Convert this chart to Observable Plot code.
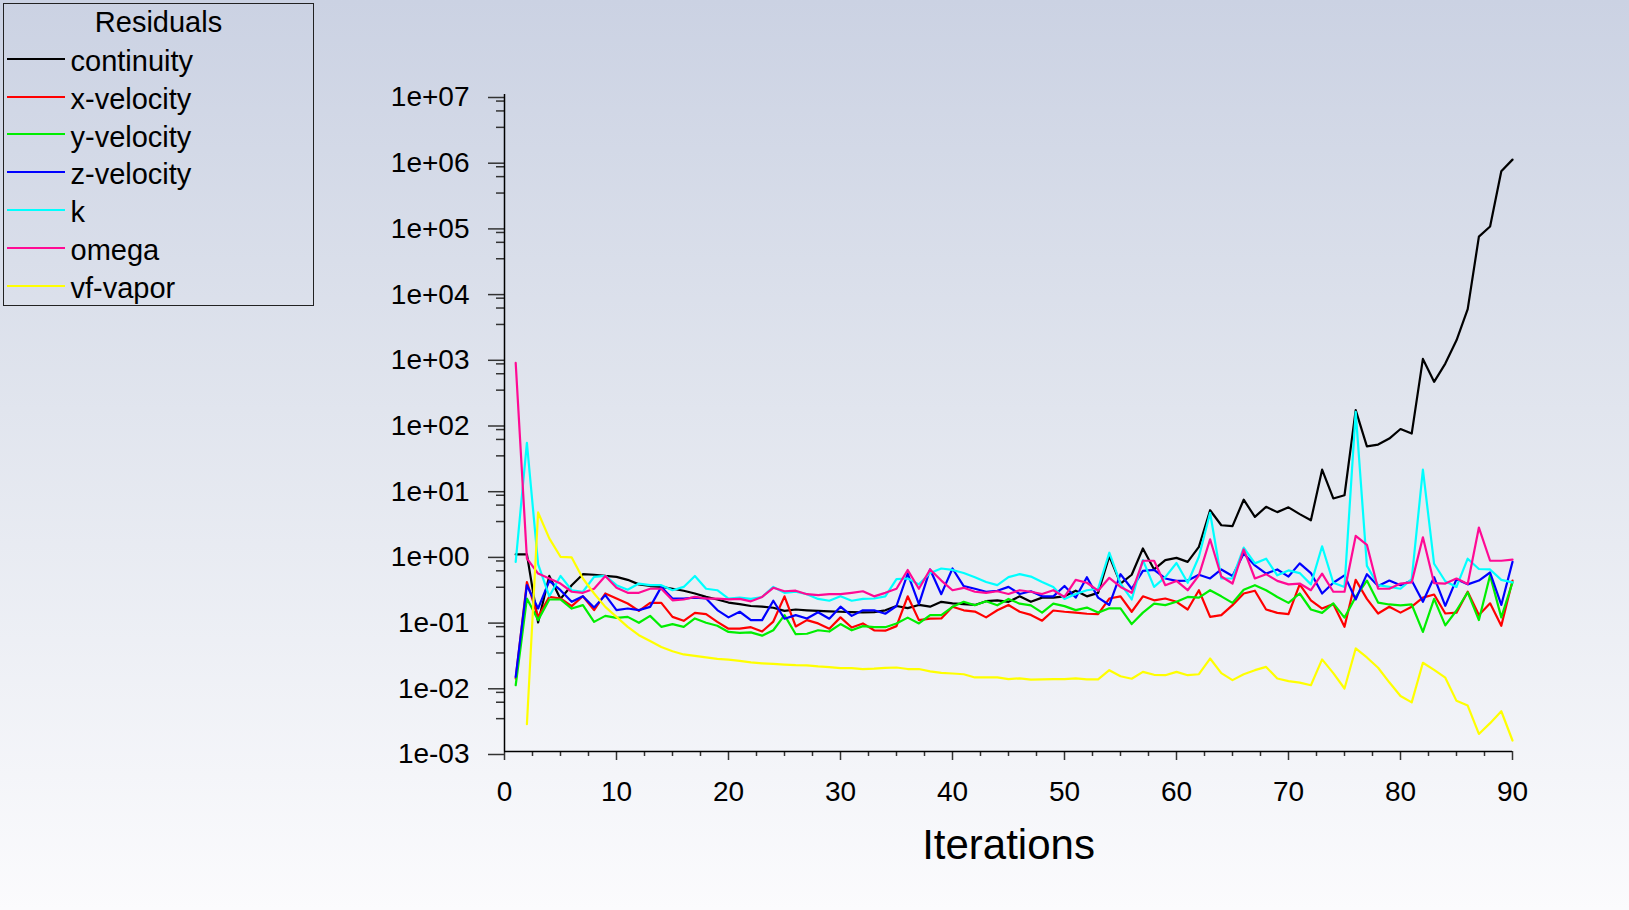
<!DOCTYPE html>
<html>
<head>
<meta charset="utf-8">
<script src="https://cdn.jsdelivr.net/npm/d3@7"></script>
<script src="https://cdn.jsdelivr.net/npm/@observablehq/plot@0.6"></script>
<style>
  html, body { margin: 0; padding: 0; }
  body {
    width: 1629px; height: 910px; overflow: hidden; position: relative;
    background: linear-gradient(to bottom, #cbd2e3 0%, #e1e5ee 45%, #fbfbfd 100%);
    font-family: "Liberation Sans", Arial, sans-serif;
  }
  #chart { position: absolute; left: 0; top: 0; }
  #legend {
    position: absolute; left: 3px; top: 3px; width: 309px; height: 301px;
    border: 1.5px solid #222; box-sizing: content-box;
  }
  #legend .t { position: absolute; font-size: 29px; line-height: 29px; color: #000; white-space: nowrap; }
  #legend .s { position: absolute; height: 2px; width: 58px; }
</style>
</head>
<body>
<div id="chart"></div>
<div id="legend"></div>
<script>
// ---------- data ----------
const iterations = d3.range(1, 91);

const seriesNames = ["continuity", "x-velocity", "y-velocity", "z-velocity", "k", "omega", "vf-vapor"];
const seriesColors = ["#000000", "#ff0000", "#00ee00", "#0000ff", "#00ffff", "#ff0a94", "#ffff00"];

const continuity = [1.0,1.0,0.092,0.47,0.21,0.34,0.50,0.49,0.47,0.455,
 0.41,0.35,0.33,0.32,0.30,0.28,0.254,0.226,0.206,0.185,
 0.175,0.164,0.16,0.154,0.138,0.145,0.141,0.138,0.136,0.134,
 0.132,0.131,0.132,0.141,0.164,0.152,0.17,0.16,0.19,0.18,
 0.175,0.17,0.194,0.2,0.19,0.23,0.19,0.22,0.22,0.23,
 0.28,0.23,0.26,0.94,0.36,0.49,1.23,0.59,0.82,0.885,
 0.77,1.30,4.7,2.78,2.69,6.8,3.72,5.3,4.4,5.2,
 4.1,3.3,19.5,7.1,7.95,157,44,47,58,81,
 69,944,423,802,1815,5400,68700,98000,677000,1020000];

const xVelocity = [0.0129,0.38,0.112,0.226,0.213,0.163,0.231,0.142,0.254,0.213,
 0.179,0.138,0.183,0.183,0.112,0.0975,0.129,0.123,0.094,0.074,
 0.074,0.078,0.067,0.095,0.23,0.08,0.10,0.089,0.074,0.11,
 0.077,0.089,0.07,0.069,0.081,0.23,0.10,0.105,0.106,0.16,
 0.141,0.135,0.11,0.141,0.17,0.134,0.12,0.098,0.14,0.134,
 0.13,0.125,0.123,0.213,0.23,0.134,0.23,0.2,0.213,0.19,
 0.145,0.285,0.112,0.119,0.169,0.254,0.28,0.145,0.129,0.123,
 0.35,0.2,0.15,0.175,0.079,0.41,0.21,0.126,0.16,0.13,
 0.16,0.22,0.245,0.126,0.13,0.27,0.12,0.18,0.082,0.4];

const yVelocity = [0.0102,0.213,0.10,0.206,0.206,0.150,0.169,0.094,0.116,0.108,
 0.112,0.091,0.116,0.079,0.087,0.079,0.106,0.091,0.082,0.066,
 0.064,0.065,0.058,0.07,0.119,0.061,0.062,0.07,0.067,0.087,
 0.07,0.081,0.078,0.078,0.089,0.109,0.089,0.119,0.119,0.159,
 0.19,0.168,0.194,0.168,0.21,0.178,0.168,0.13,0.178,0.163,
 0.142,0.155,0.13,0.151,0.151,0.087,0.13,0.178,0.169,0.19,
 0.225,0.22,0.285,0.23,0.183,0.29,0.34,0.285,0.225,0.183,
 0.254,0.145,0.129,0.18,0.109,0.225,0.40,0.185,0.173,0.168,
 0.173,0.066,0.21,0.083,0.14,0.265,0.10,0.48,0.11,0.375];

const zVelocity = [0.0137,0.34,0.15,0.396,0.285,0.19,0.231,0.156,0.24,0.142,
 0.15,0.142,0.159,0.32,0.213,0.213,0.22,0.213,0.142,0.11,
 0.134,0.1,0.1,0.197,0.105,0.119,0.106,0.132,0.105,0.16,
 0.116,0.141,0.141,0.125,0.164,0.51,0.175,0.59,0.248,0.61,
 0.33,0.30,0.27,0.28,0.32,0.25,0.275,0.23,0.23,0.33,
 0.22,0.45,0.22,0.17,0.5,0.30,0.56,0.58,0.43,0.395,
 0.40,0.49,0.43,0.59,0.47,1.03,0.68,0.51,0.59,0.46,
 0.73,0.52,0.254,0.37,0.48,0.206,0.5,0.33,0.40,0.34,
 0.40,0.19,0.45,0.165,0.42,0.35,0.40,0.53,0.17,0.77];

const kRes = [0.77,50,0.71,0.23,0.47,0.285,0.27,0.455,0.47,0.34,
 0.29,0.36,0.34,0.34,0.285,0.32,0.47,0.30,0.285,0.213,
 0.22,0.21,0.225,0.32,0.26,0.27,0.248,0.21,0.197,0.23,
 0.197,0.21,0.213,0.23,0.42,0.43,0.35,0.52,0.61,0.58,
 0.52,0.45,0.38,0.34,0.45,0.5,0.46,0.38,0.32,0.21,
 0.25,0.285,0.30,1.06,0.36,0.206,0.82,0.32,0.45,0.74,
 0.37,0.92,4.3,0.43,0.43,1.27,0.73,0.86,0.48,0.57,
 0.52,0.35,1.33,0.37,0.32,148,0.67,0.34,0.32,0.30,
 0.42,19.5,0.72,0.39,0.32,0.86,0.60,0.59,0.41,0.375];

const omega = [820,0.87,0.51,0.43,0.36,0.27,0.26,0.30,0.47,0.31,
 0.26,0.26,0.30,0.30,0.20,0.206,0.226,0.213,0.213,0.207,
 0.21,0.193,0.225,0.31,0.275,0.28,0.248,0.24,0.248,0.248,
 0.26,0.275,0.23,0.26,0.30,0.58,0.30,0.59,0.40,0.285,
 0.31,0.27,0.26,0.275,0.25,0.285,0.27,0.25,0.285,0.225,
 0.41,0.37,0.28,0.44,0.32,0.26,0.80,0.80,0.34,0.395,
 0.285,0.48,1.70,0.46,0.36,1.19,0.43,0.5,0.395,0.35,
 0.36,0.285,0.51,0.27,0.27,1.91,1.40,0.30,0.30,0.36,
 0.375,1.82,0.365,0.36,0.43,0.355,2.56,0.80,0.80,0.83];

const vfVapor = [null,0.0026,4.35,1.75,0.92,0.90,0.43,0.254,0.159,0.112,
 0.079,0.059,0.048,0.039,0.0336,0.030,0.0285,0.027,0.0257,0.0251,
 0.0240,0.0227,0.022,0.0215,0.021,0.0206,0.0204,0.0197,0.0192,0.0186,
 0.0186,0.018,0.0182,0.0187,0.019,0.018,0.018,0.0166,0.0157,0.0154,
 0.015,0.0134,0.0134,0.0134,0.0126,0.013,0.0124,0.0125,0.0126,0.0126,
 0.013,0.0125,0.0125,0.0173,0.014,0.0128,0.0163,0.0147,0.0145,0.0163,
 0.0145,0.015,0.026,0.0156,0.0122,0.015,0.0173,0.0194,0.0129,0.0118,
 0.0112,0.0102,0.0252,0.0156,0.0091,0.037,0.027,0.0188,0.0113,0.0070,
 0.0056,0.0224,0.0175,0.0133,0.0059,0.0050,0.00185,0.0027,0.0041,0.00147];

const seriesValues = [continuity, xVelocity, yVelocity, zVelocity, kRes, omega, vfVapor];

// tick values and labels
const yMajor = [1e-3, 1e-2, 1e-1, 1e0, 1e1, 1e2, 1e3, 1e4, 1e5, 1e6, 1e7];
const yTickLabels = ["1e-03","1e-02","1e-01","1e+00","1e+01","1e+02","1e+03","1e+04","1e+05","1e+06","1e+07"];
const yMinorFractions = [0.5, 0.75, 0.9];
const xMajor = [0, 10, 20, 30, 40, 50, 60, 70, 80, 90];
const xTickLabels = ["0","10","20","30","40","50","60","70","80","90"];
const xMinor = [2.5,5,7.5,12.5,15,17.5,22.5,25,27.5,32.5,35,37.5,42.5,45,47.5,52.5,55,57.5,62.5,65,67.5,72.5,75,77.5,82.5,85,87.5];
const xLabel = "Iterations";
const legendTitle = "Residuals";

// ---------- build ----------
const rows = [];
seriesNames.forEach((name, k) => {
  seriesValues[k].forEach((v, i) => {
    if (v != null) rows.push({iter: iterations[i], value: v, series: name});
  });
});

const yMinor = [];
yMajor.slice(0, -1).forEach(m => yMinorFractions.forEach(f => yMinor.push(m * Math.pow(10, f))));
const yLabelOf = new Map(yMajor.map((v, i) => [v, yTickLabels[i]]));
const xLabelOf = new Map(xMajor.map((v, i) => [v, xTickLabels[i]]));

const chart = Plot.plot({
  width: 1629,
  height: 910,
  marginLeft: 504,
  marginRight: 117,
  marginTop: 94,
  marginBottom: 159,
  x: {domain: [0, 90], axis: null, label: null},
  y: {type: "log", domain: [1e-3, 1e7], axis: null, label: null},
  color: {domain: seriesNames, range: seriesColors},
  style: {background: "transparent", fontFamily: "'Liberation Sans', Arial, sans-serif", color: "#000", overflow: "visible"},
  marks: [
    Plot.axisY({ticks: yMinor, tickSize: 8, text: null, stroke: "#333", strokeWidth: 1.5, label: null}),
    Plot.axisY({ticks: yMajor, tickSize: 16, tickPadding: 19, tickFormat: d => yLabelOf.get(d), fontSize: 28, dy: 3, stroke: "#333", strokeWidth: 1.5, label: null}),
    Plot.axisX({ticks: xMinor, tickSize: 5, text: null, stroke: "#333", strokeWidth: 1.5, label: null}),
    Plot.axisX({ticks: xMajor, tickSize: 9, tickPadding: 21, tickFormat: d => xLabelOf.get(d), fontSize: 28, stroke: "#333", strokeWidth: 1.5, label: null}),
    Plot.ruleX([0], {stroke: "#000", strokeWidth: 1.5}),
    Plot.ruleY([1e-3], {stroke: "#000", strokeWidth: 1.5}),
    Plot.line(rows, {x: "iter", y: "value", z: "series", stroke: "series", strokeWidth: 2.2}),
    Plot.text([xLabel], {frameAnchor: "bottom", dy: 94, lineAnchor: "middle", fontSize: 42, fill: "#000"})
  ]
});
document.getElementById("chart").appendChild(chart);

// ---------- legend ----------
const legend = document.getElementById("legend");
const off = 4.5;
const baseOff = 24.5;
const title = document.createElement("div");
title.className = "t";
title.textContent = legendTitle;
title.style.left = "0px";
title.style.width = "100%";
title.style.textAlign = "center";
title.style.top = (33 - baseOff - off) + "px";
legend.appendChild(title);
seriesNames.forEach((name, i) => {
  const lineY = 59.3 + 37.8 * i;
  const base = 72 + 37.8 * i;
  const s = document.createElement("div");
  s.className = "s";
  s.style.background = seriesColors[i];
  s.style.left = (7 - off) + "px";
  s.style.top = (lineY - 1 - off) + "px";
  legend.appendChild(s);
  const t = document.createElement("div");
  t.className = "t";
  t.textContent = name;
  t.style.left = (71 - off) + "px";
  t.style.top = (base - baseOff - off) + "px";
  legend.appendChild(t);
});
</script>
</body>
</html>
